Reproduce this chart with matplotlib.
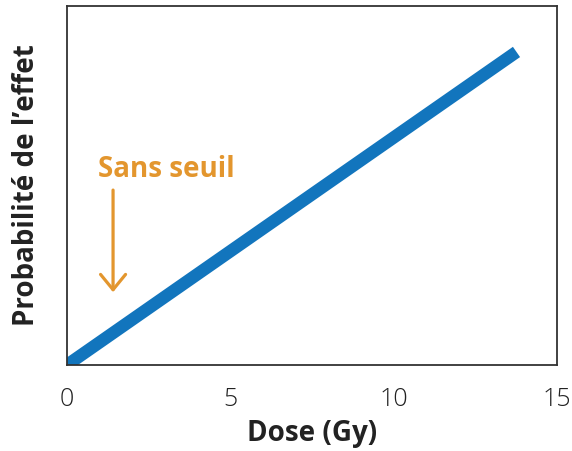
import matplotlib
matplotlib.use("Agg")
import matplotlib.pyplot as plt

dose = [0, 13.76]
prob = [0, 0.872]
xticks = [0, 5, 10, 15]
annot_text = "Sans seuil"

blue = "#1275BD"
orange = "#E3962E"

plt.rcParams['font.family'] = ['Open Sans', 'DejaVu Sans']

fig = plt.figure(figsize=(5.72, 4.51), dpi=100)
ax = fig.add_axes([67/572, 1-365/451, (557-67)/572, (365-6)/451])
ax.plot(dose, prob, color=blue, lw=9, solid_capstyle='butt', clip_on=True)
ax.set_xlim(0, 15)
ax.set_ylim(0, 1)
ax.set_xticks(xticks)
ax.set_xticklabels([str(t) for t in xticks], fontsize=18, fontweight='light', color="#222222")
ax.tick_params(axis='x', length=0, pad=16)
ax.set_yticks([])
for s in ax.spines.values():
    s.set_color("#333333")
    s.set_linewidth(1.3)
ax.set_xlabel("Dose (Gy)", fontsize=20, fontweight='bold', color="#222222", labelpad=5)
ax.set_ylabel("Probabilité de l’effet", fontsize=20, fontweight='bold', color="#222222", labelpad=19)
ax.text(3.05, 0.545, annot_text, color=orange, fontsize=20, fontweight='bold', ha='center', va='center')
ax.annotate("", xy=(1.41, 0.195), xytext=(1.41, 0.495),
            arrowprops=dict(arrowstyle='->,head_length=0.55,head_width=0.45', mutation_scale=20,
                            color=orange, lw=2.3))
fig.savefig("out.png", dpi=100)
